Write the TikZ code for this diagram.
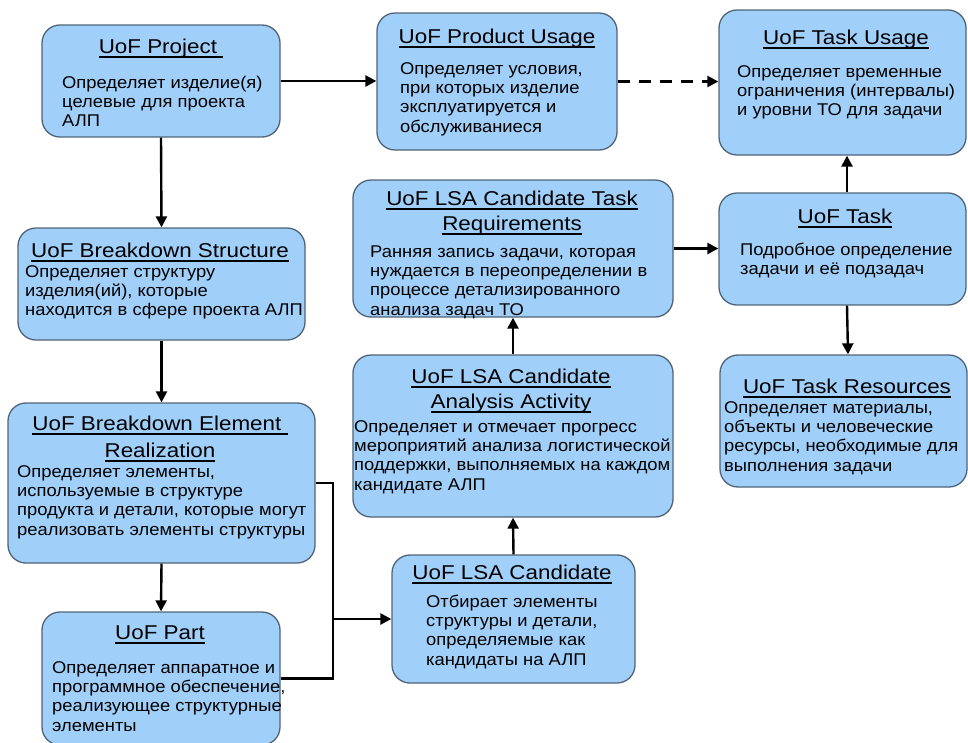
\documentclass[tikz,border=0pt]{standalone}
\usepackage{fontspec}
\setmainfont{Liberation Sans}
\newfontfamily\bodyfont[FakeStretch=1.08]{Liberation Sans}
\newfontfamily\titlefont[FakeStretch=1.12]{Liberation Sans}
\usetikzlibrary{arrows.meta}
\definecolor{boxfill}{RGB}{160,208,250}
\definecolor{boxline}{RGB}{80,100,120}
\newcommand\ulx[1]{\setbox0\hbox{#1}\rlap{\rule[-5pt]{\wd0}{1.6pt}}\box0}
\tikzset{
  box/.style={draw=boxline, fill=boxfill, rounded corners=18pt, line width=1.3pt, inner sep=0pt},
  ttl/.style={font=\titlefont\fontsize{20}{25}\selectfont, anchor=base, inner sep=0pt},
  body/.style={font=\bodyfont\fontsize{17}{19.3}\selectfont, anchor=north west, inner sep=0pt, align=left},
  arr/.style={line width=2.4pt, -{Triangle[length=11pt,width=11pt]}},
  ln/.style={line width=2.4pt},
}
\begin{document}
\begin{tikzpicture}[x=1pt,y=-1pt]
\useasboundingbox (0,0) rectangle (968,742);
\clip (0,0) rectangle (968,742);
% boxes
\node[box, minimum width=238pt, minimum height=112pt] (proj) at (161,81) {};
\node[box, minimum width=240pt, minimum height=137pt] (pu) at (497,81.5) {};
\node[box, minimum width=247pt, minimum height=145pt] (tu) at (842.5,82.5) {};
\node[box, minimum width=247pt, minimum height=112pt] (task) at (842.5,249) {};
\node[box, minimum width=247pt, minimum height=132pt] (tr) at (843.5,421) {};
\node[box, minimum width=287pt, minimum height=112pt] (bs) at (161.5,284) {};
\node[box, minimum width=307pt, minimum height=160pt] (ber) at (161.5,483) {};
\node[box, minimum width=238pt, minimum height=133pt] (part) at (161,678.5) {};
\node[box, minimum width=320pt, minimum height=137pt] (ctr) at (513,248.5) {};
\node[box, minimum width=320pt, minimum height=162pt] (aa) at (513,436) {};
\node[box, minimum width=243pt, minimum height=128pt] (lsac) at (513.5,619) {};
% titles
\node[ttl] (projT) at (161,53) {\ulx{UoF Project\ }};
\node[ttl] (puT) at (497,43) {\ulx{UoF Product Usage}};
\node[ttl] (tuT) at (846,44) {\ulx{UoF Task Usage}};
\node[ttl] (taskT) at (845,223) {\ulx{UoF Task}};
\node[ttl] (trT) at (847,393) {\ulx{UoF Task Resources}};
\node[ttl] (bsT) at (160,257) {\ulx{UoF Breakdown Structure}};
\node[ttl] (berT1) at (160,430) {\ulx{UoF Breakdown Element\ }};
\node[ttl] (berT2) at (160,457) {\ulx{Realization}};
\node[ttl] (partT) at (160,639) {\ulx{UoF Part}};
\node[ttl] (ctrT1) at (512,205) {\ulx{UoF LSA Candidate Task}};
\node[ttl] (ctrT2) at (512,230) {\ulx{Requirements}};
\node[ttl] (aaT1) at (511,383) {\ulx{UoF LSA Candidate}};
\node[ttl] (aaT2) at (511,408) {\ulx{Analysis Activity}};
\node[ttl] (lsacT) at (512,579) {\ulx{UoF LSA Candidate}};
% bodies (anchor at first baseline minus strut height 13.5)
\node[body] (projB) at (62,74.5) {\strut Определяет изделие(я)\\целевые для проекта\\АЛП};
\node[body] (puB) at (400,60.5) {\strut Определяет условия,\\при которых изделие\\эксплуатируется и\\обслуживаниеся};
\node[body] (tuB) at (737,63.5) {\strut Определяет временные\\ограничения (интервалы)\\и уровни ТО для задачи};
\node[body] (taskB) at (740,241.5) {\strut Подробное определение\\задачи и её подзадач};
\node[body] (trB) at (724,399.5) {\strut Определяет материалы,\\объекты и человеческие\\ресурсы, необходимые для\\выполнения задачи};
\node[body] (bsB) at (25,263.5) {\strut Определяет структуру\\изделия(ий), которые\\находится в сфере проекта АЛП};
\node[body] (berB) at (17,463.5) {\strut Определяет элементы,\\используемые в структуре\\продукта и детали, которые могут\\реализовать элементы структуры};
\node[body] (partB) at (52,659.5) {\strut Определяет аппаратное и\\программное обеспечение,\\реализующее структурные\\элементы};
\node[body] (ctrB) at (370,243.5) {\strut Ранняя запись задачи, которая\\нуждается в переопределении в\\процессе детализированного\\анализа задач ТО};
\node[body] (aaB) at (354,418.5) {\strut Определяет и отмечает прогресс\\мероприятий анализа логистической\\поддержки, выполняемых на каждом\\кандидате АЛП};
\node[body] (lsacB) at (426,593.5) {\strut Отбирает элементы\\структуры и детали,\\определяемые как\\кандидаты на АЛП};
% connectors
\draw[arr] (proj.south) -- (bs.north);
\draw[arr] (bs.south) -- (ber.north);
\draw[arr] (ber.south) -- (part.north);
\draw[arr] (proj.east) -- (pu.west |- proj.east);
\draw[arr, dashed, dash pattern=on 12pt off 9pt] (pu.east) -- (tu.west |- pu.east);
\draw[arr] ([xshift=4.5pt]task.north) -- ([xshift=4.5pt]tu.south);
\draw[arr] ([xshift=4.5pt]task.south) -- ([xshift=4.5pt]tr.north);
\draw[arr] (ctr.east) -- (task.west |- ctr.east);
\draw[arr] (lsac.north) -- (aa.south);
\draw[arr] (aa.north) -- (ctr.south);
\coordinate (j1) at (333,483);
\coordinate (j2) at (333,678.5);
\draw[ln] (ber.east) -- (j1) -- (j2) -- (part.east);
\draw[arr] (j1 |- lsac.west) -- (lsac.west);
\end{tikzpicture}
\end{document}
